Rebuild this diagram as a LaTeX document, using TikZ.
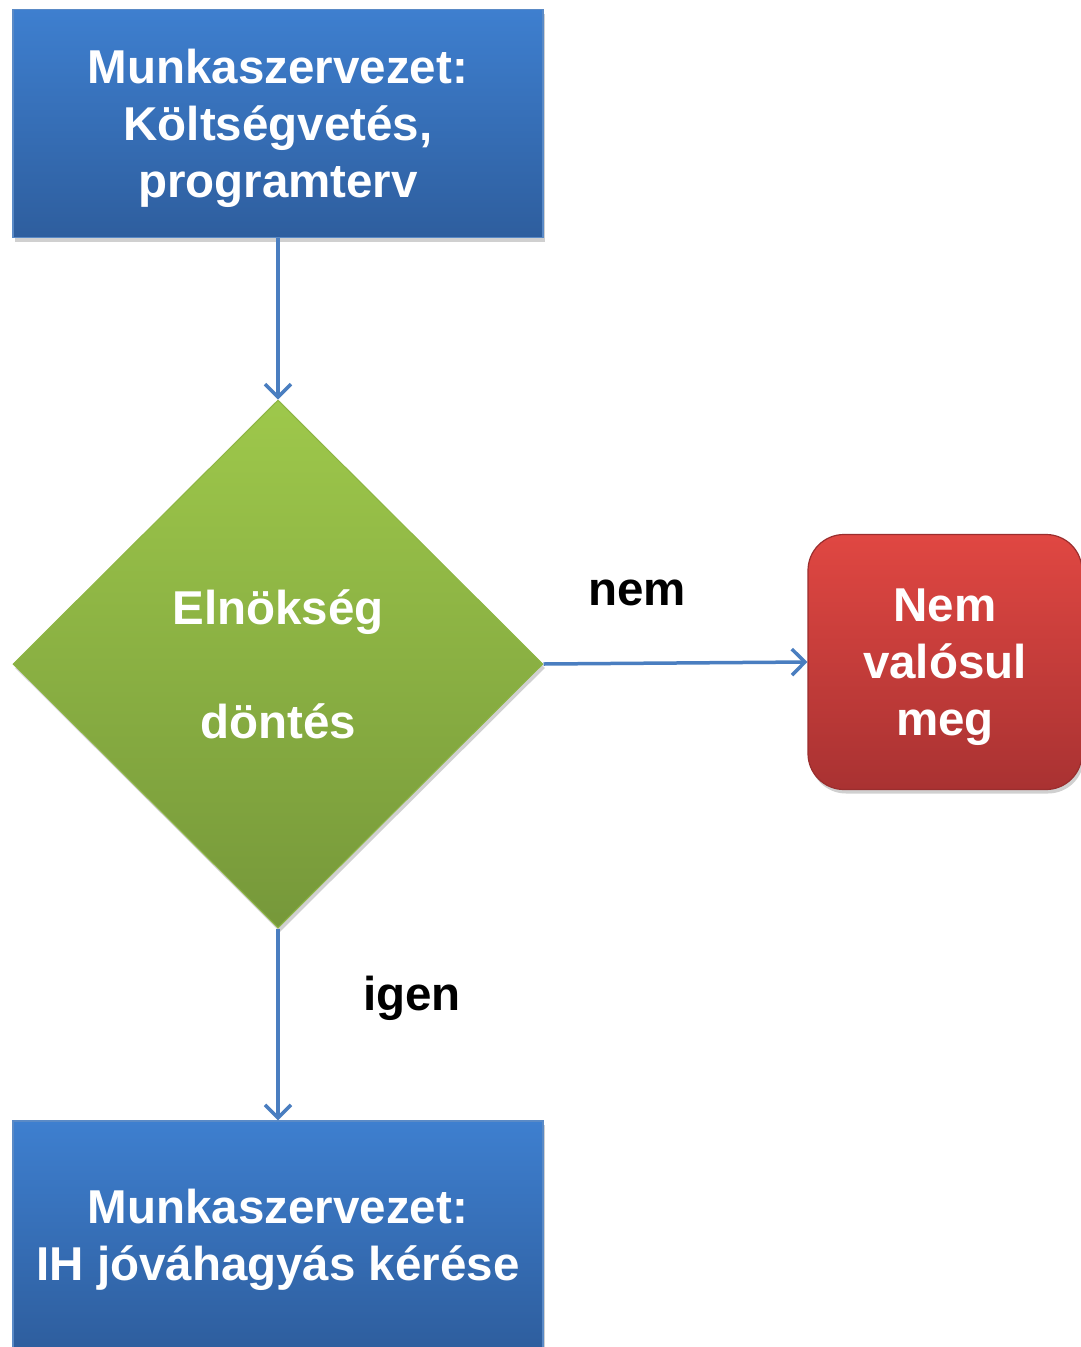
\documentclass[tikz,border=0pt]{standalone}
\usepackage{fontspec}
\setmainfont{Liberation Sans}
\usetikzlibrary{shapes.geometric,arrows.meta,shadows}
\definecolor{bluetop}{HTML}{3E7FCF}
\definecolor{bluebot}{HTML}{2E5E9E}
\definecolor{blueedge}{HTML}{5A8AC6}
\definecolor{greentop}{HTML}{9EC84B}
\definecolor{greenbot}{HTML}{76983A}
\definecolor{greenedge}{HTML}{8DB544}
\definecolor{redtop}{HTML}{E04742}
\definecolor{redbot}{HTML}{A93232}
\definecolor{rededge}{HTML}{9A2E2E}
\definecolor{linkblue}{HTML}{4A7EC0}
\begin{document}
\begin{tikzpicture}[x=1pt,y=-1pt,
  txt/.style={font=\fontsize{47.5}{57}\selectfont\bfseries, align=center},
  wtxt/.style={txt, text=white},
  shad/.style={drop shadow={shadow xshift=2pt, shadow yshift=-4pt, opacity=0.3, fill=black!60}},
  bluebox/.style={wtxt, rectangle, draw=blueedge, line width=1.2pt,
    top color=bluetop, bottom color=bluebot, text depth=0pt,
    minimum width=530pt, minimum height=228pt, inner sep=0pt, shad},
  decision/.style={wtxt, diamond, draw=greenedge, line width=1pt,
    top color=greentop, bottom color=greenbot,
    minimum width=530pt, minimum height=528pt, inner sep=0pt, shad},
  stopbox/.style={wtxt, rectangle, rounded corners=36pt, draw=rededge, line width=1.2pt,
    top color=redtop, bottom color=redbot, text depth=0pt,
    minimum width=274pt, minimum height=255pt, inner sep=0pt, shad},
  lbl/.style={txt, text=black},
  link/.style={draw=linkblue, line width=3.5pt,
    -{Straight Barb[length=13pt,width=26pt]}}
]
\useasboundingbox (0,0) rectangle (1081,1347);
\fill[white] (0,0) rectangle (1081,1347);
\clip (0,0) rectangle (1081,1347);

\node[bluebox] (top) at (278,123.5) {Munkaszervezet:\\Költségvetés,\\programterv};
\node[decision] (dec) at (278,664) {Elnökség\\[57pt]döntés};
\node[stopbox] (stop) at (945,662) {Nem\\valósul\\meg};
\node[bluebox] (bot) at (278,1235) {Munkaszervezet:\\IH jóváhagyás kérése};

\node[lbl] (nem) at (637,593) {nem};
\node[lbl] (igen) at (412,998) {igen};

\draw[link] (top.south) -- (dec.north);
\draw[link] (dec.east) -- (stop.west);
\draw[link] (dec.south) -- (bot.north);
\end{tikzpicture}
\end{document}
